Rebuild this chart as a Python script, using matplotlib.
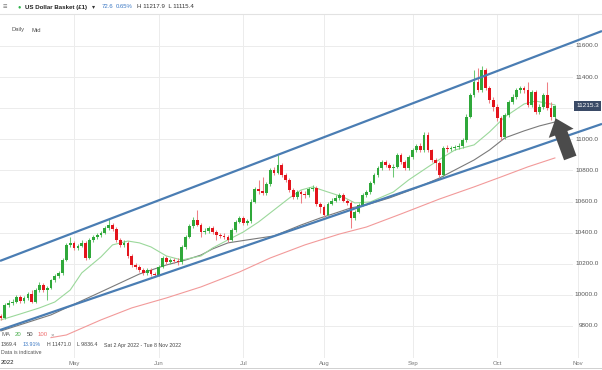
import matplotlib
matplotlib.use("Agg")
import matplotlib.pyplot as plt
from matplotlib.lines import Line2D
from matplotlib.transforms import blended_transform_factory
import numpy as np
import pandas as pd

plt.rcParams["font.family"] = ["Liberation Sans", "DejaVu Sans"]

# daily candles, US Dollar Basket, 5 Apr - 24 Oct 2022
fecha_inicio = "2022-04-05"
fecha_fin = "2022-10-24"
primer_open = 9864

closes = [
    9851, 9935, 9948, 9954, 9986, 9961, 9980, 10006, 9954, 10031,
    10064, 10031, 10044, 10096, 10121, 10141, 10224, 10321, 10334, 10301,
    10314, 10334, 10237, 10353, 10372, 10385, 10398, 10430, 10449, 10424,
    10353, 10321, 10334, 10250, 10192, 10179, 10160, 10141, 10160, 10134,
    10128, 10179, 10237, 10211, 10224, 10218, 10211, 10308, 10372, 10443,
    10481, 10449, 10404, 10411, 10430, 10404, 10385, 10380, 10372, 10353,
    10417, 10469, 10494, 10462, 10475, 10600, 10680, 10665, 10655, 10710,
    10800, 10784, 10835, 10771, 10739, 10674, 10629, 10661, 10649, 10642,
    10681, 10688, 10584, 10565, 10514, 10584, 10604, 10623, 10642, 10604,
    10591, 10494, 10533, 10578, 10642, 10661, 10719, 10771, 10816, 10854,
    10835, 10816, 10822, 10899, 10854, 10816, 10886, 10931, 10957, 10931,
    11028, 10931, 10867, 10848, 10771, 10944, 10938, 10944, 10950, 10957,
    10996, 11144, 11285, 11369, 11317, 11446, 11330, 11253, 11208, 11137,
    11015, 11156, 11240, 11272, 11317, 11330, 11317, 11221, 11304, 11176,
    11208, 11285, 11201, 11143, 11215,
]

highs = [
    9880, 9950, 9965, 9975, 10000, 10000, 9995, 10020, 10030, 10045,
    10080, 10075, 10060, 10105, 10135, 10155, 10235, 10335, 10372, 10345,
    10330, 10350, 10345, 10365, 10385, 10400, 10410, 10445, 10488, 10460,
    10435, 10365, 10350, 10345, 10260, 10205, 10195, 10175, 10175, 10170,
    10150, 10190, 10250, 10250, 10240, 10240, 10235, 10320, 10385, 10455,
    10500, 10546, 10460, 10430, 10445, 10440, 10415, 10400, 10395, 10385,
    10430, 10480, 10510, 10505, 10490, 10615, 10695, 10740, 10760, 10725,
    10815, 10820, 10900, 10845, 10785, 10750, 10685, 10675, 10675, 10665,
    10695, 10705, 10700, 10595, 10575, 10595, 10620, 10640, 10655, 10655,
    10615, 10605, 10545, 10590, 10655, 10675, 10730, 10785, 10830, 10870,
    10870, 10850, 10840, 10910, 10915, 10865, 10900, 10945, 10970, 10975,
    11047, 11047, 10940, 10880, 10860, 10960, 10965, 10960, 10965, 10975,
    11010, 11160, 11300, 11446, 11459, 11471, 11460, 11345, 11275, 11225,
    11150, 11170, 11255, 11290, 11330, 11345, 11345, 11369, 11320, 11315,
    11225, 11300, 11369, 11240, 11218,
]

lows = [
    9836, 9845, 9925, 9935, 9945, 9950, 9950, 9970, 9945, 9945,
    10020, 10020, 9967, 10035, 10085, 10110, 10130, 10215, 10310, 10290,
    10290, 10305, 10225, 10230, 10340, 10360, 10370, 10390, 10420, 10410,
    10340, 10305, 10310, 10240, 10180, 10165, 10145, 10130, 10130, 10120,
    10115, 10120, 10170, 10200, 10200, 10205, 10195, 10200, 10295, 10365,
    10430, 10440, 10372, 10390, 10400, 10390, 10353, 10365, 10360, 10340,
    10345, 10405, 10460, 10450, 10450, 10465, 10590, 10650, 10640, 10645,
    10700, 10770, 10775, 10760, 10725, 10660, 10615, 10615, 10591, 10625,
    10630, 10670, 10570, 10527, 10500, 10505, 10575, 10595, 10610, 10595,
    10575, 10430, 10480, 10525, 10570, 10630, 10650, 10710, 10760, 10805,
    10820, 10800, 10758, 10815, 10840, 10800, 10805, 10875, 10920, 10920,
    10920, 10920, 10855, 10803, 10755, 10760, 10920, 10925, 10930, 10940,
    10945, 10985, 11135, 11275, 11305, 11305, 11315, 11235, 11180, 11120,
    10996, 11005, 11145, 11230, 11260, 11300, 11300, 11205, 11210, 11160,
    11160, 11195, 11190, 11125, 11115,
]

# moving averages (candle index, price)
ma20_idx = [0, 5, 10, 14, 18, 21, 26, 29, 33, 36, 39, 43, 47, 52, 55, 59, 63, 67,
            71, 75, 78, 81, 85, 89, 92, 96, 102, 106, 111, 115, 118, 123, 127,
            131, 136, 139, 144]
ma20_val = [9839, 9877, 9916, 9954, 10031, 10141, 10244, 10321, 10346, 10334,
            10308, 10250, 10224, 10250, 10301, 10353, 10404, 10469, 10546, 10623,
            10674, 10694, 10661, 10629, 10591, 10597, 10661, 10739, 10822, 10886,
            10931, 10964, 11047, 11144, 11227, 11246, 11221]

ma50_idx = [0, 13, 26, 36, 43, 48, 52, 55, 59, 64, 71, 78, 83, 87, 91, 95, 101,
            108, 114, 123, 127, 131, 136, 140, 144]
ma50_val = [9768, 9871, 10019, 10134, 10192, 10224, 10256, 10295, 10334, 10353,
            10379, 10449, 10494, 10526, 10559, 10578, 10623, 10687, 10751, 10867,
            10931, 11009, 11054, 11086, 11111]

ma100_idx = [13, 17, 26, 34, 43, 52, 62, 70, 79, 88, 95, 104, 114, 123, 130, 137, 144]
ma100_val = [9725, 9742, 9839, 9916, 9980, 10051, 10147, 10237, 10321, 10391,
             10436, 10520, 10616, 10694, 10758, 10823, 10880]

# channel drawn on the chart (index, price at each end)
canal_sup_idx = [-0.25, 156.25]
canal_sup_val = [10218, 11696]
canal_inf_idx = [-0.25, 156.25]
canal_inf_val = [9774, 11099]

niveles_y = [9800, 10000, 10200, 10400, 10600, 10800, 11000, 11200, 11400, 11600]
meses = ["May", "Jun", "Jul", "Aug", "Sep", "Oct", "Nov"]
inicio_meses = ["2022-05-01", "2022-06-01", "2022-07-01", "2022-08-01",
                "2022-09-01", "2022-10-01", "2022-11-01"]
ultimo_precio = 11215.3

VERDE = "#2fa83a"
ROJO = "#e3141c"
W, H = 602, 370


def px(x, y):
    return x / W, 1 - y / H


def dibujar_velas(ax, idx, o, h, l, c):
    sube = c >= o
    colores = np.where(sube, VERDE, ROJO)
    wick_col = np.where(sube, "#6cc874", "#ef7f84")
    ax.vlines(idx, l, h, colors=wick_col, lw=0.75, zorder=3)
    cuerpo = np.maximum(np.abs(c - o), 5)
    ax.bar(idx, cuerpo, bottom=np.minimum(o, c), width=0.72, color=colores,
           lw=0, zorder=4)


def main():
    fechas = pd.bdate_range(fecha_inicio, fecha_fin)
    c = np.array(closes, dtype=float)
    o = np.r_[primer_open, c[:-1]]
    h = np.array(highs, dtype=float)
    l = np.array(lows, dtype=float)
    idx = np.arange(len(fechas))

    pos_meses = [len(pd.bdate_range(fecha_inicio, pd.Timestamp(m) - pd.Timedelta(days=1)))
                 for m in inicio_meses]

    fig = plt.figure(figsize=(W / 100, H / 100), dpi=100)
    ax = fig.add_axes([0, 12 / H, 1, 343 / H])
    ax.set_xlim(-0.25, 156.25)
    ax.set_ylim(9594, 11799)
    for s in ax.spines.values():
        s.set_visible(False)

    mix = blended_transform_factory(ax.transAxes, ax.transData)
    for v in niveles_y:
        ax.axhline(v, xmin=0, xmax=572 / W, color="#ececec", lw=0.7, zorder=0)
        # the last-price tag hides the level label right under it
        if abs(v - ultimo_precio) > 40:
            ax.text(0.994, v, f"{v:.1f}", transform=mix, ha="right", va="center",
                    fontsize=4.6, color="#555555")
    for p in pos_meses:
        ax.axvline(p, color="#ececec", lw=0.7, zorder=0)

    ax.set_yticks([])
    ax.set_xticks(pos_meses, meses)
    ax.tick_params(axis="x", length=0, pad=2, labelsize=4.3, labelcolor="#777777")

    ax.plot(ma100_idx, ma100_val, color="#f29a9a", lw=0.8, zorder=2)
    ax.plot(ma50_idx, ma50_val, color="#7a7a7a", lw=0.8, zorder=2)
    ax.plot(ma20_idx, ma20_val, color="#9bd89b", lw=0.8, zorder=2)

    dibujar_velas(ax, idx, o, h, l, c)

    ax.plot(canal_sup_idx, canal_sup_val, color="#4a7db3", lw=1.6, zorder=5,
            solid_capstyle="butt")
    ax.plot(canal_inf_idx, canal_inf_val, color="#4a7db3", lw=1.6, zorder=5,
            solid_capstyle="butt")

    ax.annotate("", xy=(144.2, 11135), xytext=(148.0, 10880),
                arrowprops=dict(arrowstyle="simple,head_length=1.15,head_width=1.9,tail_width=0.95",
                                mutation_scale=10, fc="#4b4b4b", ec="none",
                                shrinkA=0, shrinkB=0), zorder=6)

    ax.text(0.995, ultimo_precio, f"{ultimo_precio:.1f}", transform=mix, ha="right",
            va="center", fontsize=4.6, color="white", zorder=7,
            bbox=dict(boxstyle="square,pad=0.35", fc="#3a4a66", ec="none"))

    # header
    fig.add_artist(Line2D([0, 1], [1 - 14 / H] * 2, transform=fig.transFigure,
                          color="#e2e2e2", lw=0.8))
    fig.add_artist(Line2D([0, 1], [1 - 368 / H] * 2, transform=fig.transFigure,
                          color="#d0d0d0", lw=0.7))
    fig.text(*px(3, 7), "≡", fontsize=5.5, color="#777777", va="center")
    fig.text(*px(17, 7), "●", fontsize=4, color="#2db34a", va="center")
    fig.text(*px(25, 7), "US Dollar Basket (£1)", fontsize=4.4, color="#222222",
             va="center", fontweight="bold")
    fig.text(*px(92, 7), "▾", fontsize=4.4, color="#333333", va="center")
    fig.text(*px(102, 7), "72.6", fontsize=4.3, color="#3b78c4", va="center")
    fig.text(*px(116, 7), "0.65%", fontsize=4.3, color="#3b78c4", va="center")
    fig.text(*px(137, 7), "H 11217.9  L 11115.4", fontsize=4.4, color="#333333",
             va="center")
    fig.text(*px(11, 30), "Daily", fontsize=4.2, color="#555555", va="center")
    fig.text(*px(32, 30), "Mid", fontsize=4.2, color="#555555", va="center")

    # bottom-left legend
    y1 = 335
    fig.text(*px(2, y1), "MA", fontsize=4.3, color="#666666", va="center")
    fig.text(*px(15, y1), "20", fontsize=4.3, color="#4caf50", va="center")
    fig.text(*px(27, y1), "50", fontsize=4.3, color="#444444", va="center")
    fig.text(*px(38, y1), "100", fontsize=4.3, color="#ef6c6c", va="center")
    fig.text(*px(51, y1), "×", fontsize=4.3, color="#888888", va="center")
    y2 = 345
    fig.text(*px(1, y2), "1369.4", fontsize=3.8, color="#444444", va="center")
    fig.text(*px(23, y2), "13.91%", fontsize=3.8, color="#3b78c4", va="center")
    fig.text(*px(47, y2), "H 11471.0", fontsize=3.8, color="#444444", va="center")
    fig.text(*px(77, y2), "L 9836.4", fontsize=3.8, color="#444444", va="center")
    fig.text(*px(104, y2), "Sat 2 Apr 2022 - Tue 8 Nov 2022", fontsize=3.8,
             color="#444444", va="center")
    fig.text(*px(1, 353), "Data is indicative", fontsize=3.8, color="#555555",
             va="center")
    fig.text(*px(1, 363), "2022", fontsize=4.3, color="#222222", va="center")

    fig.savefig("out.png", dpi=100)
    plt.close(fig)


if __name__ == "__main__":
    main()
